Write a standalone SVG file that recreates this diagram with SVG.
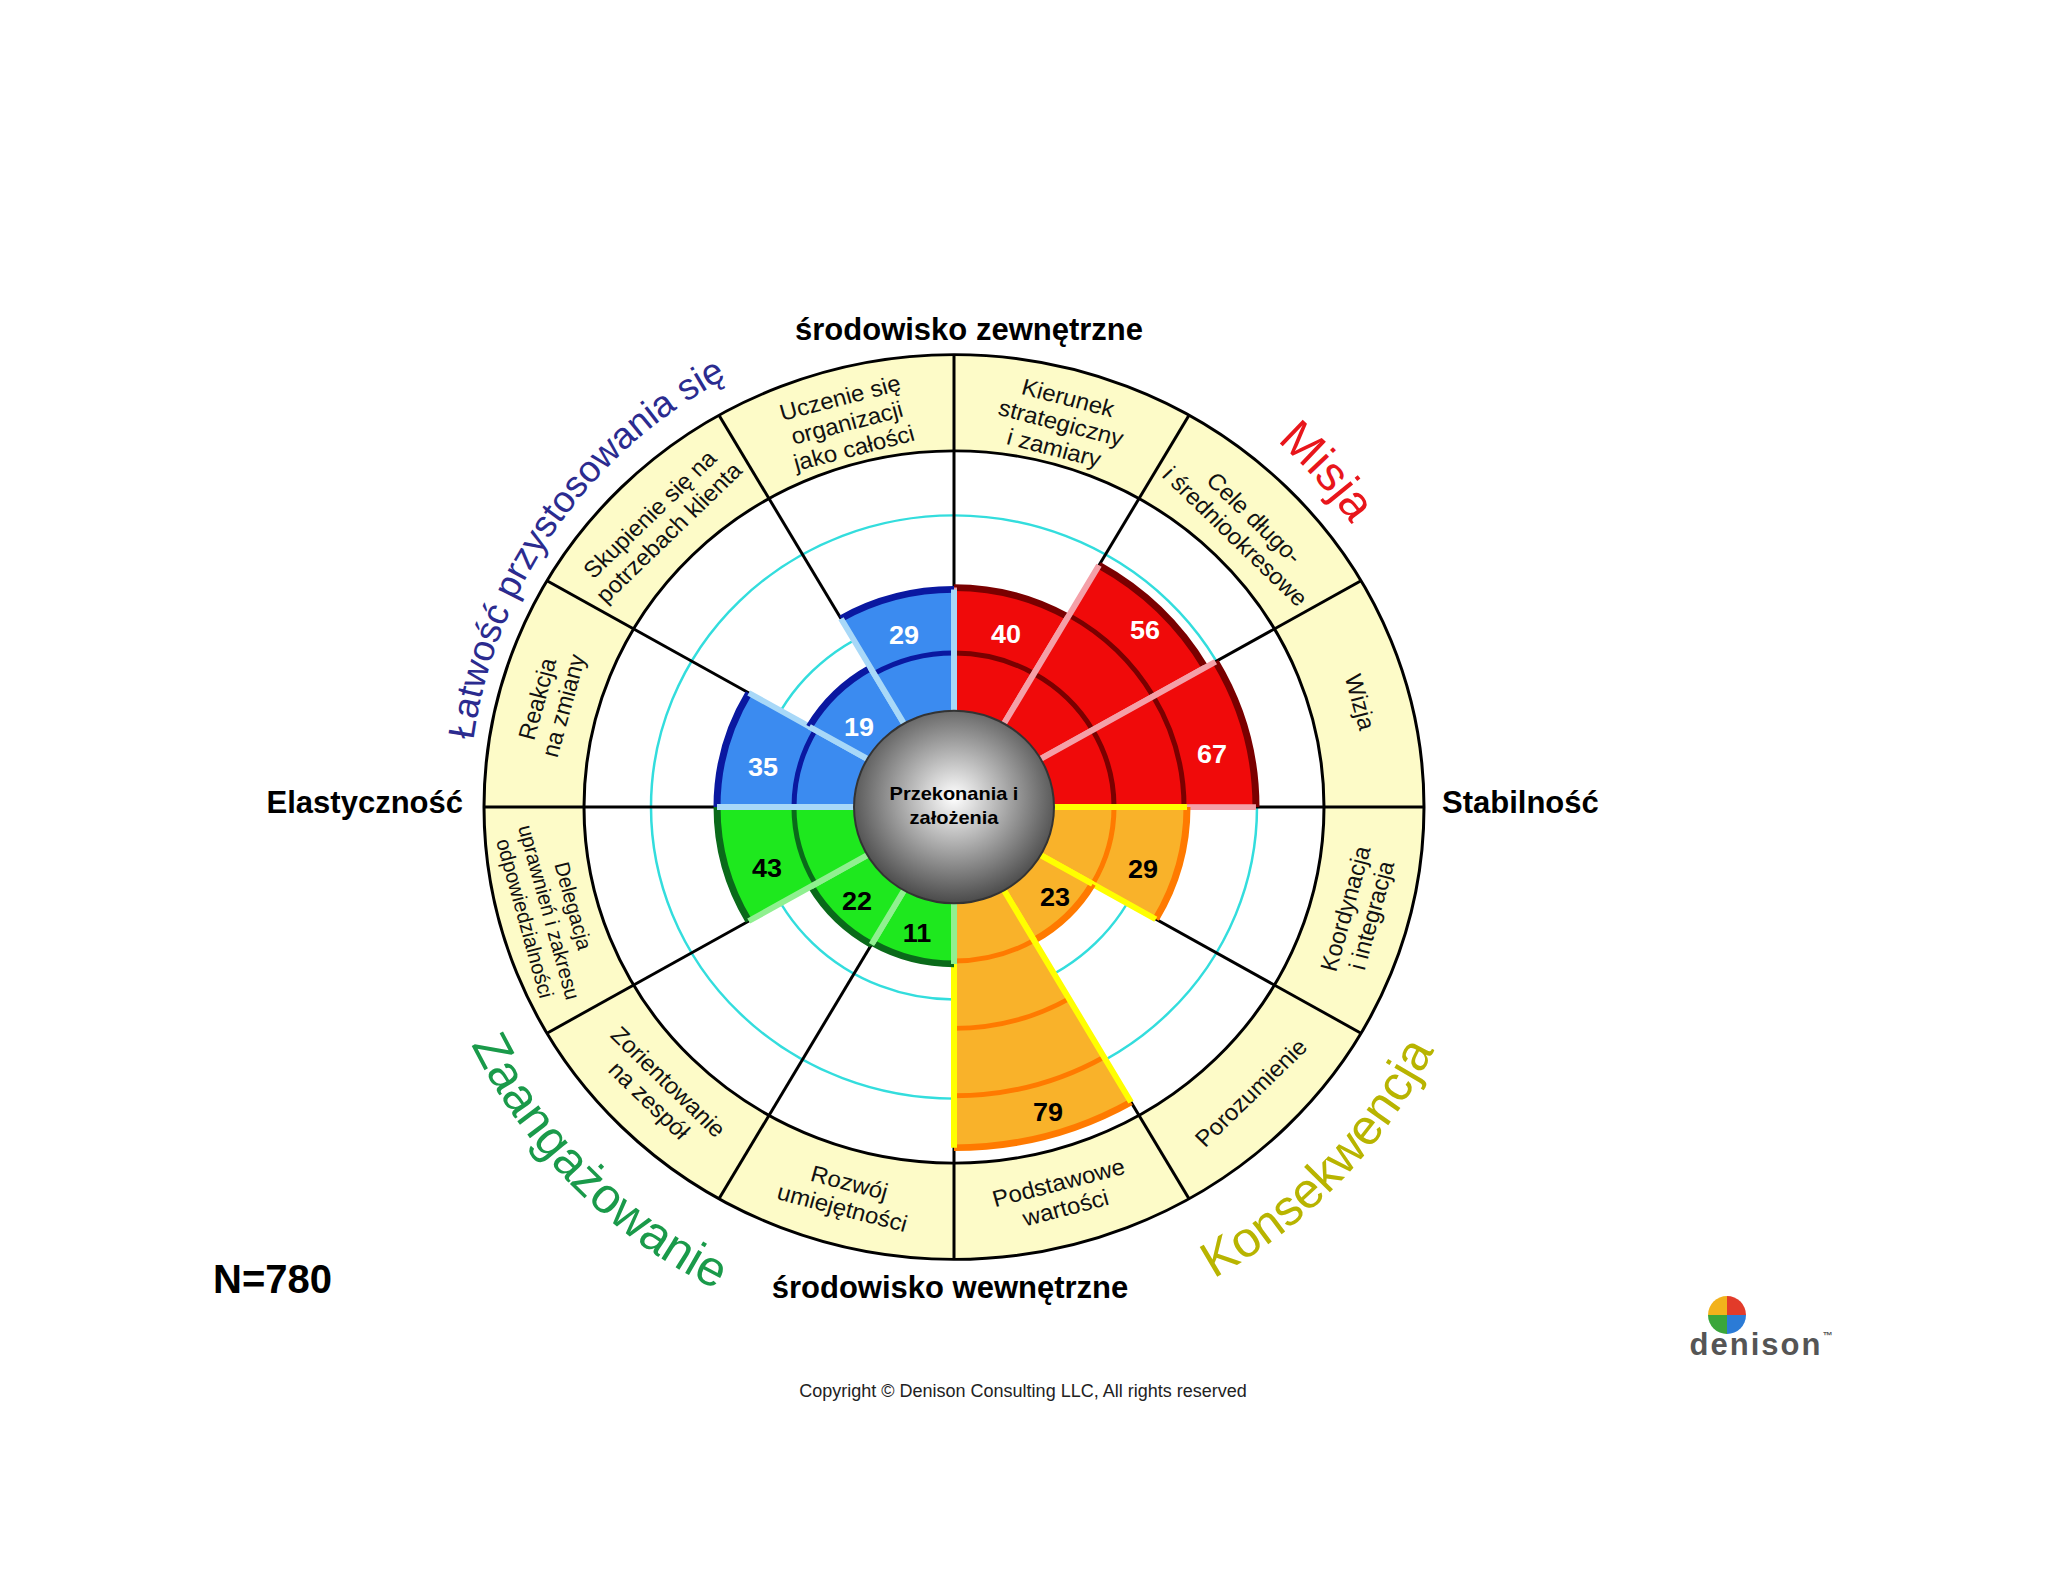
<svg xmlns="http://www.w3.org/2000/svg" width="2048" height="1582" viewBox="0 0 2048 1582">
<style>
.lbl{font-family:"Liberation Sans",Arial,sans-serif;font-size:24px;fill:#111;text-anchor:middle;dominant-baseline:central}
.num{font-family:"Liberation Sans",Arial,sans-serif;font-size:27px;font-weight:bold;text-anchor:middle;dominant-baseline:central}
.hd{font-family:"Liberation Sans",Arial,sans-serif;font-size:31px;font-weight:bold;fill:#000}
.q{font-family:"Liberation Sans",Arial,sans-serif;text-anchor:middle}
.rad{stroke:#000;stroke-width:3}
</style>
<defs>
<radialGradient id="gc" cx="50%" cy="45%" r="55%"><stop offset="0" stop-color="#ffffff"/><stop offset="1" stop-color="#4a4a4a"/></radialGradient>
<path id="pL" d="M498,973 A485,485 0 0 1 954,322"/>
<path id="pM" d="M954,319 A488,488 0 0 1 1439,858"/>
<path id="pZ" d="M416,807 A538,538 0 0 0 954,1345"/>
<path id="pK" d="M973,1345 A538,538 0 0 0 1492,807"/>
</defs>
<rect width="2048" height="1582" fill="#fff"/>
<g transform="translate(954,807) scale(1,0.9625) translate(-954,-807)">
<g id="wheel">
<circle cx="954" cy="807" r="470" fill="#fdfbc8" stroke="#000" stroke-width="3"/>
<circle cx="954" cy="807" r="370" fill="#fff" stroke="#000" stroke-width="3"/>
<circle cx="954" cy="807" r="303" fill="none" stroke="#33dddd" stroke-width="2.5"/>
<circle cx="954" cy="807" r="200" fill="none" stroke="#33dddd" stroke-width="2.5"/>
<g transform="translate(954,807)">
<line class="rad" x1="0" y1="-470" x2="0" y2="470"/>
<line class="rad" x1="-470" y1="0" x2="470" y2="0"/>
<line class="rad" x1="235" y1="-407" x2="-235" y2="407"/>
<line class="rad" x1="407" y1="-235" x2="-407" y2="235"/>
<line class="rad" x1="-235" y1="-407" x2="235" y2="407"/>
<line class="rad" x1="-407" y1="-235" x2="407" y2="235"/>
</g>
</g>
<g id="bars" stroke-linejoin="miter">
<g transform="translate(954,807) rotate(0)"><path d="M0,-100 L0,-228 A228,228 0 0 1 114,-197.5 L50,-86.6 A100,100 0 0 0 0,-100Z" fill="#f00a0a"/><path d="M0,-228 A228,228 0 0 1 114,-197.5" fill="none" stroke="#7a0000" stroke-width="7"/><path d="M0,-160 A160,160 0 0 1 80,-138.6" fill="none" stroke="#7a0000" stroke-width="5"/><path d="M0,-100 L0,-228 M50,-86.6 L114,-197.5" stroke="#f4a0a8" stroke-width="6"/></g>
<g transform="translate(954,807) rotate(30)"><path d="M0,-100 L0,-290 A290,290 0 0 1 145,-251.1 L50,-86.6 A100,100 0 0 0 0,-100Z" fill="#f00a0a"/><path d="M0,-290 A290,290 0 0 1 145,-251.1" fill="none" stroke="#7a0000" stroke-width="7"/><path d="M0,-160 A160,160 0 0 1 80,-138.6 M0,-230 A230,230 0 0 1 115,-199.2" fill="none" stroke="#7a0000" stroke-width="5"/><path d="M0,-100 L0,-290 M50,-86.6 L145,-251.1" stroke="#f4a0a8" stroke-width="6"/></g>
<g transform="translate(954,807) rotate(60)"><path d="M0,-100 L0,-302 A302,302 0 0 1 151,-261.5 L50,-86.6 A100,100 0 0 0 0,-100Z" fill="#f00a0a"/><path d="M0,-302 A302,302 0 0 1 151,-261.5" fill="none" stroke="#7a0000" stroke-width="7"/><path d="M0,-160 A160,160 0 0 1 80,-138.6 M0,-230 A230,230 0 0 1 115,-199.2" fill="none" stroke="#7a0000" stroke-width="5"/><path d="M0,-100 L0,-302 M50,-86.6 L151,-261.5" stroke="#f4a0a8" stroke-width="6"/></g>
<g transform="translate(954,807) rotate(90)"><path d="M0,-100 L0,-233 A233,233 0 0 1 116.5,-201.8 L50,-86.6 A100,100 0 0 0 0,-100Z" fill="#f9b22a"/><path d="M0,-233 A233,233 0 0 1 116.5,-201.8" fill="none" stroke="#ff7a00" stroke-width="7"/><path d="M0,-160 A160,160 0 0 1 80,-138.6" fill="none" stroke="#ff7a00" stroke-width="5"/><path d="M0,-100 L0,-233 M50,-86.6 L116.5,-201.8" stroke="#ffff00" stroke-width="6"/></g>
<g transform="translate(954,807) rotate(120)"><path d="M0,-100 L0,-160 A160,160 0 0 1 80,-138.6 L50,-86.6 A100,100 0 0 0 0,-100Z" fill="#f9b22a"/><path d="M0,-160 A160,160 0 0 1 80,-138.6" fill="none" stroke="#ff7a00" stroke-width="7"/><path d="M0,-100 L0,-160 M50,-86.6 L80,-138.6" stroke="#ffff00" stroke-width="6"/></g>
<g transform="translate(954,807) rotate(150)"><path d="M0,-100 L0,-354 A354,354 0 0 1 177,-306.6 L50,-86.6 A100,100 0 0 0 0,-100Z" fill="#f9b22a"/><path d="M0,-354 A354,354 0 0 1 177,-306.6" fill="none" stroke="#ff7a00" stroke-width="7"/><path d="M0,-160 A160,160 0 0 1 80,-138.6 M0,-230 A230,230 0 0 1 115,-199.2 M0,-300 A300,300 0 0 1 150,-259.8" fill="none" stroke="#ff7a00" stroke-width="5"/><path d="M0,-100 L0,-354 M50,-86.6 L177,-306.6" stroke="#ffff00" stroke-width="6"/></g>
<g transform="translate(954,807) rotate(180)"><path d="M0,-100 L0,-163 A163,163 0 0 1 81.5,-141.2 L50,-86.6 A100,100 0 0 0 0,-100Z" fill="#1ee81e"/><path d="M0,-163 A163,163 0 0 1 81.5,-141.2" fill="none" stroke="#0a6a1a" stroke-width="7"/><path d="M0,-100 L0,-163 M50,-86.6 L81.5,-141.2" stroke="#90f090" stroke-width="6"/></g>
<g transform="translate(954,807) rotate(210)"><path d="M0,-100 L0,-165 A165,165 0 0 1 82.5,-142.9 L50,-86.6 A100,100 0 0 0 0,-100Z" fill="#1ee81e"/><path d="M0,-165 A165,165 0 0 1 82.5,-142.9" fill="none" stroke="#0a6a1a" stroke-width="7"/><path d="M0,-100 L0,-165 M50,-86.6 L82.5,-142.9" stroke="#90f090" stroke-width="6"/></g>
<g transform="translate(954,807) rotate(240)"><path d="M0,-100 L0,-237 A237,237 0 0 1 118.5,-205.2 L50,-86.6 A100,100 0 0 0 0,-100Z" fill="#1ee81e"/><path d="M0,-237 A237,237 0 0 1 118.5,-205.2" fill="none" stroke="#0a6a1a" stroke-width="7"/><path d="M0,-160 A160,160 0 0 1 80,-138.6" fill="none" stroke="#0a6a1a" stroke-width="5"/><path d="M0,-100 L0,-237 M50,-86.6 L118.5,-205.2" stroke="#90f090" stroke-width="6"/></g>
<g transform="translate(954,807) rotate(270)"><path d="M0,-100 L0,-237 A237,237 0 0 1 118.5,-205.2 L50,-86.6 A100,100 0 0 0 0,-100Z" fill="#3b8bf0"/><path d="M0,-237 A237,237 0 0 1 118.5,-205.2" fill="none" stroke="#0a18a0" stroke-width="7"/><path d="M0,-160 A160,160 0 0 1 80,-138.6" fill="none" stroke="#0a18a0" stroke-width="5"/><path d="M0,-100 L0,-237 M50,-86.6 L118.5,-205.2" stroke="#a8d8f8" stroke-width="6"/></g>
<g transform="translate(954,807) rotate(300)"><path d="M0,-100 L0,-167 A167,167 0 0 1 83.5,-144.6 L50,-86.6 A100,100 0 0 0 0,-100Z" fill="#3b8bf0"/><path d="M0,-167 A167,167 0 0 1 83.5,-144.6" fill="none" stroke="#0a18a0" stroke-width="7"/><path d="M0,-100 L0,-167 M50,-86.6 L83.5,-144.6" stroke="#a8d8f8" stroke-width="6"/></g>
<g transform="translate(954,807) rotate(330)"><path d="M0,-100 L0,-226 A226,226 0 0 1 113,-195.7 L50,-86.6 A100,100 0 0 0 0,-100Z" fill="#3b8bf0"/><path d="M0,-226 A226,226 0 0 1 113,-195.7" fill="none" stroke="#0a18a0" stroke-width="7"/><path d="M0,-160 A160,160 0 0 1 80,-138.6" fill="none" stroke="#0a18a0" stroke-width="5"/><path d="M0,-100 L0,-226 M50,-86.6 L113,-195.7" stroke="#a8d8f8" stroke-width="6"/></g>
</g>
<g id="center">
<circle cx="954" cy="807" r="100" fill="url(#gc)" stroke="#333" stroke-width="2"/>
<text class="num" style="font-size:20px" fill="#000" x="954" y="793">Przekonania i</text>
<text class="num" style="font-size:20px" fill="#000" x="954" y="818">założenia</text>
</g>
<g id="values">
<text class="num" fill="#fff" x="1006" y="627">40</text>
<text class="num" fill="#fff" x="1145" y="623">56</text>
<text class="num" fill="#fff" x="1212" y="752">67</text>
<text class="num" fill="#000" x="1143" y="872">29</text>
<text class="num" fill="#000" x="1055" y="901">23</text>
<text class="num" fill="#000" x="1048" y="1124">79</text>
<text class="num" fill="#000" x="917" y="938">11</text>
<text class="num" fill="#000" x="857" y="905">22</text>
<text class="num" fill="#000" x="767" y="871">43</text>
<text class="num" fill="#fff" x="763" y="766">35</text>
<text class="num" fill="#fff" x="859" y="724">19</text>
<text class="num" fill="#fff" x="904" y="628">29</text>
</g>
<g id="sector-labels">
<text class="lbl" transform="translate(1061,408) rotate(15)"><tspan x="0" dy="-27">Kierunek</tspan><tspan x="0" dy="27">strategiczny</tspan><tspan x="0" dy="27">i zamiary</tspan></text>
<text class="lbl" transform="translate(1245,516) rotate(45)"><tspan x="0" dy="-13">Cele długo-</tspan><tspan x="0" dy="27">i średniookresowe</tspan></text>
<text class="lbl" transform="translate(1360,698) rotate(75)">Wizja</text>
<text class="lbl" transform="translate(1358,916) rotate(-75)"><tspan x="0" dy="-13">Koordynacja</tspan><tspan x="0" dy="27">i integracja</tspan></text>
<text class="lbl" transform="translate(1251,1104) rotate(-45)">Porozumienie</text>
<text class="lbl" transform="translate(1062,1210) rotate(-15)"><tspan x="0" dy="-13">Podstawowe</tspan><tspan x="0" dy="27">wartości</tspan></text>
<text class="lbl" transform="translate(846,1210) rotate(15)"><tspan x="0" dy="-13">Rozwój</tspan><tspan x="0" dy="27">umiejętności</tspan></text>
<text class="lbl" transform="translate(659,1102) rotate(45)"><tspan x="0" dy="-13">Zorientowanie</tspan><tspan x="0" dy="27">na zespół</tspan></text>
<text class="lbl" style="font-size:21px" transform="translate(550,916) rotate(75)"><tspan x="0" dy="-25">Delegacja</tspan><tspan x="0" dy="25">uprawnień i zakresu</tspan><tspan x="0" dy="25">odpowiedzialności</tspan></text>
<text class="lbl" transform="translate(550,698) rotate(-75)"><tspan x="0" dy="-13">Reakcja</tspan><tspan x="0" dy="27">na zmiany</tspan></text>
<text class="lbl" transform="translate(659,512) rotate(-45)"><tspan x="0" dy="-13">Skupienie się na</tspan><tspan x="0" dy="27">potrzebach klienta</tspan></text>
<text class="lbl" transform="translate(847,408) rotate(-15)"><tspan x="0" dy="-27">Uczenie się</tspan><tspan x="0" dy="27">organizacji</tspan><tspan x="0" dy="27">jako całości</tspan></text>
</g>
</g>
<g id="quadrant-labels">
<text class="q" style="font-size:37px" fill="#2b2b8f"><textPath href="#pL" startOffset="50%">Łatwość przystosowania się</textPath></text>
<text class="q" style="font-size:48px" fill="#e8161b"><textPath href="#pM" startOffset="50%">Misja</textPath></text>
<text class="q" style="font-size:50px" fill="#1a9a4a"><textPath href="#pZ" startOffset="50%">Zaangażowanie</textPath></text>
<text class="q" style="font-size:50px" fill="#b8b400"><textPath href="#pK" startOffset="50%">Konsekwencja</textPath></text>
</g>
<g id="axes">
<text class="hd" x="969" y="340" text-anchor="middle">środowisko zewnętrzne</text>
<text class="hd" x="950" y="1298" text-anchor="middle">środowisko wewnętrzne</text>
<text class="hd" x="463" y="813" text-anchor="end">Elastyczność</text>
<text class="hd" x="1442" y="813">Stabilność</text>
</g>
<text id="n" x="213" y="1293" font-family="Liberation Sans, Arial, sans-serif" font-size="40" font-weight="bold">N=780</text>
<text id="copyright" x="1023" y="1397" text-anchor="middle" font-family="Liberation Sans, Arial, sans-serif" font-size="18" fill="#222">Copyright © Denison Consulting LLC, All rights reserved</text>
<g id="logo">
<path d="M1727,1315 L1727,1296 A19,19 0 0 1 1746,1315Z" fill="#e23b2a"/>
<path d="M1727,1315 L1746,1315 A19,19 0 0 1 1727,1334Z" fill="#2b7bd6"/>
<path d="M1727,1315 L1727,1334 A19,19 0 0 1 1708,1315Z" fill="#3aa63a"/>
<path d="M1727,1315 L1708,1315 A19,19 0 0 1 1727,1296Z" fill="#f2b21b"/>
<text x="1762" y="1355" text-anchor="middle" font-family="Liberation Sans, Arial, sans-serif" font-size="31" font-weight="bold" fill="#555" letter-spacing="2">denison<tspan font-size="10" dy="-16">™</tspan></text>
</g>
</svg>
